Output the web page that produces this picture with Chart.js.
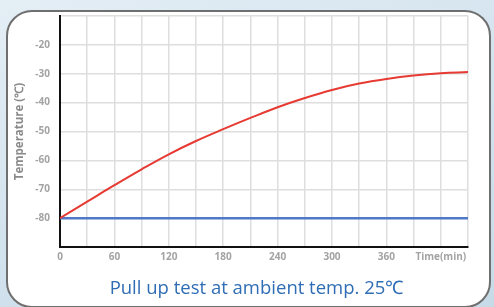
<!DOCTYPE html>
<html lang="en">
<head>
  <meta charset="UTF-8">
  <title>Pull up test</title>
  <script src="https://cdn.jsdelivr.net/npm/chart.js"></script>
  <style>
    html, body {
      margin: 0;
      padding: 0;
      width: 494px;
      height: 307px;
      overflow: hidden;
      background: linear-gradient(160deg, #e4eef5 0%, #d3e3ee 50%, #c6dae8 100%);
      font-family: 'Open Sans', sans-serif;
    }
    .card {
      position: absolute;
      left: 6px;
      top: 10px;
      width: 481px;
      height: 294px;
      background: #fff;
      border: 2px solid #6f6f6f;
      border-radius: 26px;
    }
    .chart-box {
      position: absolute;
      left: 0;
      top: 0;
      width: 494px;
      height: 307px;
    }
    .caption {
      position: absolute;
      left: 0;
      top: 277px;
      width: 513px;
      text-align: center;
      font-size: 18.5px;
      line-height: 20px;
      color: #2f6db5;
      white-space: nowrap;
    }
  </style>
</head>
<body>
  <div class="card"></div>
  <div class="chart-box">
    <canvas id="pullChart" width="494" height="307"></canvas>
  </div>
  <div class="caption">Pull up test at ambient temp. 25℃</div>

  <script>
    // time in minutes
    const times = [0, 30, 60, 90, 120, 150, 180, 210, 240, 270, 300, 330, 360, 390, 420, 450];
    const pullUp = [-80, -74.3, -68.6, -63.1, -57.9, -53.3, -49.2, -45.3, -41.6, -38.4, -35.6, -33.4, -31.8, -30.6, -29.8, -29.4];
    const startTemp = [-80, -80, -80, -80, -80, -80, -80, -80, -80, -80, -80, -80, -80, -80, -80, -80];
    const xLabels = [0, 60, 120, 180, 240, 300, 360];
    const yLabels = [-20, -30, -40, -50, -60, -70, -80];

    const ctx = document.getElementById('pullChart').getContext('2d');
    new Chart(ctx, {
      type: 'line',
      data: {
        datasets: [
          {
            label: 'Pull up',
            data: times.map((t, i) => ({ x: t, y: pullUp[i] })),
            borderColor: '#e63a33',
            borderWidth: 2,
            pointRadius: 0,
            tension: 0.4
          },
          {
            label: 'Start',
            data: times.map((t, i) => ({ x: t, y: startTemp[i] })),
            borderColor: '#4f78c8',
            borderWidth: 2.5,
            pointRadius: 0
          }
        ]
      },
      options: {
        responsive: false,
        animation: false,
        layout: { padding: { left: 10, right: 26, top: 16, bottom: 38 } },
        plugins: {
          legend: { display: false },
          tooltip: { enabled: false }
        },
        scales: {
          x: {
            type: 'linear',
            min: 0,
            max: 450,
            afterFit: s => { s.height = 22; },
            border: { color: '#111', width: 2 },
            grid: { color: '#dedede', lineWidth: 1.5, drawTicks: false },
            ticks: {
              stepSize: 30,
              autoSkip: false,
              maxRotation: 0,
              padding: 4,
              color: '#a3a3a3',
              font: { family: 'Open Sans', size: 10, weight: 'bold' },
              callback: v => xLabels.includes(v) ? String(v) : (v === 420 ? 'Time(min)' : '')
            }
          },
          y: {
            min: -90,
            max: -10,
            afterFit: s => { s.width = 50; },
            border: { color: '#111', width: 2 },
            grid: { color: '#dedede', lineWidth: 1.5, drawTicks: false },
            title: {
              display: true,
              text: 'Temperature (℃)',
              color: '#8a8a8a',
              font: { family: 'Open Sans', size: 11.5, weight: 'bold' },
              padding: { top: 3, bottom: 0 }
            },
            ticks: {
              stepSize: 10,
              padding: 10,
              color: '#a3a3a3',
              font: { family: 'Open Sans', size: 10, weight: 'bold' },
              callback: v => yLabels.includes(v) ? String(v) : ''
            }
          }
        }
      }
    });
  </script>
</body>
</html>
